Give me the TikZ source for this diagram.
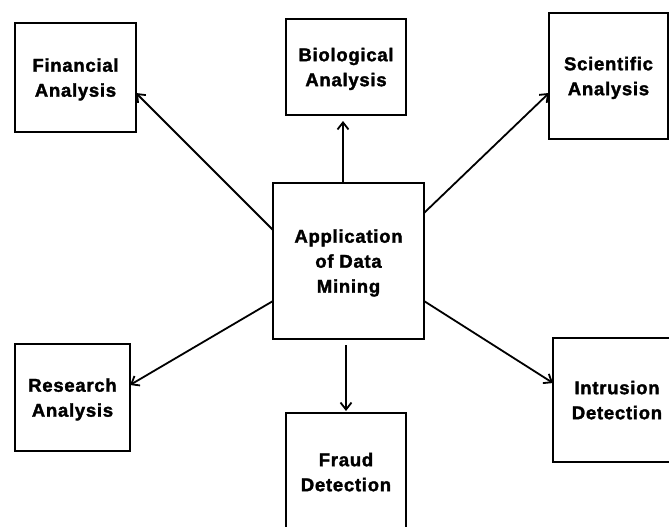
\documentclass[tikz,border=0pt]{standalone}
\usepackage{fontspec}
\setmainfont{Liberation Sans}
\newfontfamily\boxfont[UprightFont={* Bold}, FakeBold=1.8, LetterSpace=4]{Liberation Sans}
\usetikzlibrary{arrows.meta}
\tikzset{
  box/.style={draw=black, line width=2.8pt, fill=white, align=center,
    font=\boxfont\fontsize{18.5}{25}\selectfont, text depth=0pt,
    inner sep=0pt, outer sep=0pt},
  arr/.style={line width=1.8pt, -{Straight Barb[length=7pt,width=11pt,line width=1.8pt]}}
}
\begin{document}
\begin{tikzpicture}[x=1pt,y=-1pt]
\useasboundingbox (0,0) rectangle (669,527);
\clip (0,0) rectangle (669,527);
\node[box, minimum width=151pt, minimum height=156pt] (ctr) at (348.5,261) {Application\\of Data\\Mining};
\node[box, minimum width=121pt, minimum height=109pt] (fin) at (75.5,77.5) {Financial\\Analysis};
\node[box, minimum width=120pt, minimum height=96pt] (bio) at (346,67) {Biological\\Analysis};
\node[box, minimum width=119pt, minimum height=126pt] (sci) at (608.5,76) {Scientific\\Analysis};
\node[box, minimum width=115pt, minimum height=107pt] (res) at (72.5,397.5) {Research\\Analysis};
\node[box, minimum width=120pt, minimum height=118pt] (fra) at (346,472) {Fraud\\Detection};
\node[box, minimum width=128pt, minimum height=124pt] (int) at (617,400) {Intrusion\\Detection};

\draw[arr] ([yshift=31pt]ctr.west) -- ([yshift=-15.5pt]fin.east);
\draw[arr, shorten >=6pt] ([xshift=-5.5pt]ctr.north) -- ([xshift=-3pt]bio.south);
\draw[arr] ([yshift=48pt]ctr.east) -- ([yshift=-17pt]sci.west);
\draw[arr] ([yshift=-40pt]ctr.west) -- ([yshift=12.5pt]res.east);
\draw[arr, shorten <=6pt, shorten >=2pt] ([xshift=-2.5pt]ctr.south) -- (fra.north);
\draw[arr] ([yshift=-40pt]ctr.east) -- ([yshift=17pt]int.west);
\end{tikzpicture}
\end{document}
